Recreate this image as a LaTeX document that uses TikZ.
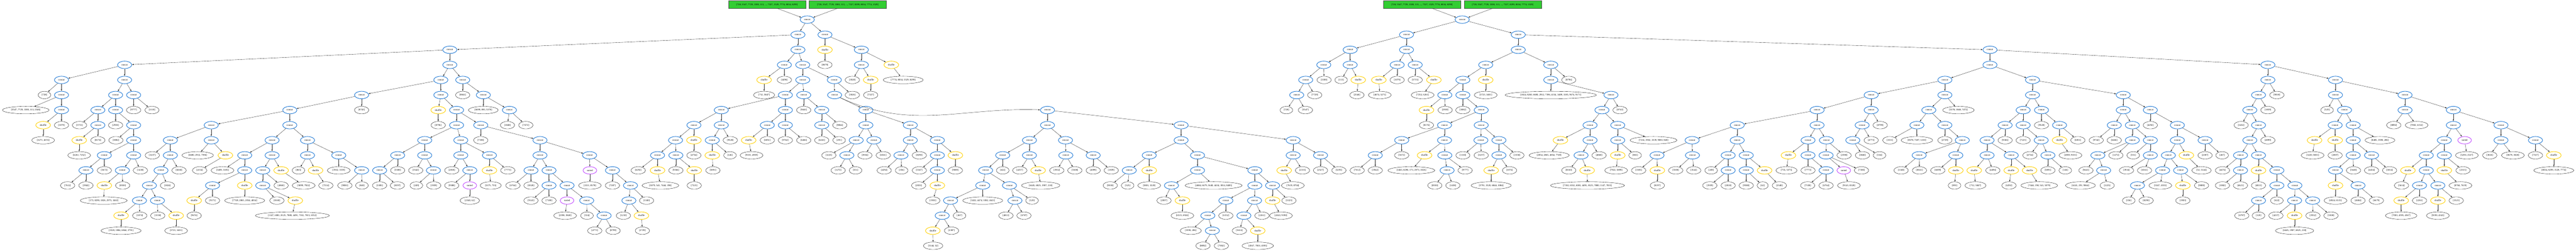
\documentclass[tikz,border=0pt]{standalone}
\usepackage{fontspec}
\setmainfont{Liberation Serif}
\usetikzlibrary{shapes.geometric,arrows.meta}
\definecolor{opblue}{RGB}{30,120,212}
\definecolor{opgold}{RGB}{255,208,0}
\definecolor{oppink}{RGB}{192,72,255}
\definecolor{srcgreen}{RGB}{50,205,50}

\def\concatlist{L1/R/2478/1, M1/R/2562/1, B/L1/1397/2, L2/L1/2478/2, M2/M1/2675/2, M3/M2/2675/3, L3a/L2/2436/3, L3b/L2/2493/3, L4a/L3b/2493/4, L4b/L3b/2591/4, L5c/L4b/2592/5, L5a/L4a/2439/5, L5b/L4a/2496/5, L6d/L5b/2552/6, L7d/L6d/2552/7, L6a/L5a/2240/6, L6b/L5a/2439/6, L7g/L6b/2383/7, L7h/L6b/2439/7, L7a/L6a/2155/7, L7b/L6a/2240/7, L8b/L7b/2212/8, L8a/L7a/2098/8, L9a/L8a/2042/9, L9b/L8a/2099/9, L6e/L5c/2689/6, L7e/L6e/2689/7, L7f/L6e/2827/7, L8e/L7e/2659/8, L8f/L7e/2714/8, L9e/L8e/2630/9, L8g/L7f/2827/8, L8h/L7f/2911/8, L9g/L8g/2798/9, L9h/L8h/2911/9, L10h/L9h/2911/10, N7a/N6/3253/7, N7b/N6/3668/7, N8a/N7a/3197/8, N8b/N7a/3309/8, N9a/N8a/3114/9, N9b/N8a/3197/9, N10a/N9a/3061/10, N11a/N10a/3052/11, N11b/N10a/3135/11, N12a/N11a/2952/12, N13a/N12a/2926/13, N12b/N11b/3152/12, N9x/N8b/3310/9, N9y/N8b/3395/9, N8c/N7b/3668/8, P8/N7b/4016/8, N9c/N8c/3569/9, N9d/N8c/3719/9, N10c/N9c/3507/10, N10d/N9d/3719/10, N10e/N9d/3897/10, N11d/N10d/3638/11, N11e/N10e/3897/11, N11f/N10e/3952/11, N12e/N11e/3807/12, N12f/N11e/3896/12, N13e/N12e/3751/13, N14e/N13e/3765/14, N13f/N12f/3863/13, P9a/P8/4016/9, P9b/P8/4101/9,
B3/B/1397/3, A/B/387/3, A4a/A/191/4, A4b/A/387/4, A5a/A4a/191/5, A6a/A5a/191/6, A5b/A4b/359/5, A5c/A4b/415/5, A6b/A5b/304/6, A6c/A5b/359/6, A7b/A6b/304/7, A7c/A6c/415/7, A8c/A7c/415/8, A9a/A8c/324/9, A9b/A8c/415/9, A10a/A9a/267/10, A10b/A9b/380/10, B4a/B3/1369/4, B4b/B3/1437/4, C5/B4a/1123/5, B5a/B4a/1369/5, B5b/B4b/1501/5, B6b/B5b/1582/6, B6a/B5a/1418/6, B7a/B6a/1418/7, B7b/B6a/1493/7, B8c/B7b/1677/8, B8a/B7a/1319/8, B8b/B7a/1431/8, B9a/B8a/1235/9, B9b/B8a/1319/9, B10x/B9a/1179/10, B10y/B9b/1346/10, B9c/B8b/1431/9, B9d/B8b/1520/9, B10c/B9c/1459/10, B9e/B8c/1677/9, B9f/B8c/1831/9, B10a/B9e/1649/10, B10b/B9e/1705/10, B11a/B10b/1705/11, B11b/B10b/1761/11, B12/B11b/1822/12, B13/B12/1876/13, B10f/B9f/1902/10, B11f/B10f/1958/11, B12f/B11f/1953/12, C6/C5/900/6, C7a/C6/656/7, C7b/C6/900/7, C8a/C7a/529/8, C8b/C7a/656/8, C9a/C8a/529/9, C10a/C9a/500/10, C11a/C10a/464/11, C12a/C11a/433/12, C12b/C11a/489/12, C8c/C7b/845/8, C8d/C7b/955/8, C9c/C8c/760/9, C9d/C8c/845/9, C10c/C9c/760/10, C11c/C10c/660/11, C10d/C9d/816/10, C11d/C10d/816/11, C9e/C8d/955/9, C9f/C8d/1052/9, C10f/C9f/1123/10,
S1/R2/4368/1, T1/R2/4715/1, S2a/S1/4193/2, S2b/S1/4368/2, S3a/S2a/4111/3, S3b/S2a/4193/3, S4a/S3a/4055/4, S5a/S4a/4027/5, S3c/S2b/4339/3, S3d/S2b/4395/3, T2/T1/4715/2, U2/T1/6180/2, T3a/T2/4614/3, T3b/T2/4816/3, T4a/T3a/4543/4, T5a/T4a/4487/5, T5b/T4a/4543/5, T6b/T5b/4600/6, T7a/T6b/4486/7, T7b/T6b/4600/7, T8a/T7a/4353/8, T8b/T7a/4486/8, T9a/T8a/4271/9, T9b/T8b/4487/9, T10b/T9b/4494/10, T8c/T7b/4599/8, T8d/T7b/4655/8, T9d/T8d/4655/9, T4b/T3b/4816/4, T5d/T4b/5003/5, T6d/T5d/4975/6, T7d/T6d/4938/7, T7e/T6d/5024/7, T8e/T7d/4938/8, T9e/T8e/4910/9, T8f/T7e/5024/8,
U3/U2/6180/3, V3/U2/7043/3, U4a/U3/6040/4, U4b/U3/6312/4, U5a/U4a/5811/5, U5b/U4a/6040/5, U6a/U5b/5990/6, U7a/U6a/5953/7, U7b/U6a/6040/7, U8b/U7b/6094/8, U9a/U8b/5960/9, U9b/U8b/6074/9, W6a/U5a/5643/6, W6b/U5a/5811/6, W7c/W6b/5783/7, W8c/W7c/5754/8, W7a/W6a/5395/7, W7b/W6a/5643/7, W8a/W7b/5615/8, W8b/W7b/5672/8, W9a/W8a/5615/9, W10a/W9a/5671/10, W9b/W8b/5671/9, W8d/W7a/5255/8, W8e/W7a/5395/8, W9d/W8d/5146/9, W9e/W8d/5256/9, W9f/W8e/5367/9, W9g/W8e/5423/9, W10f/W9f/5367/10, W10g/W9g/5423/10, U5c/U4b/6312/5, U5d/U4b/6594/5, U6c/U5c/6283/6, U6d/U5c/6340/6, U7c/U6c/6227/7, U7d/U6c/6283/7, U8c/U7c/6171/8, U9c/U8c/6171/9, U9d/U8c/6246/9, U8d/U7d/6339/8, U9x/U8d/6360/9, U7e/U6d/6396/7, U6e/U5d/6594/6, U6f/U5d/6678/6, U7f/U6e/6566/7, U7g/U6e/6622/7, U8g/U7g/6622/8, U8h/U7g/6678/8, U9g/U8g/6515/9, U10g/U9g/6533/10, U9h/U8h/6678/9, U7h/U6f/6762/7, U8i/U7h/6762/8, U8j/U7h/6848/8, U9i/U8i/6734/9, U10i/U9i/6716/10, U10j/U9i/6772/10, U11i/U10i/6638/11,
V4a/V3/7043/4, V4b/V3/7253/4, V5a/V4a/7014/5, V6a/V5a/6987/6, V7a/V6a/7014/7, V8a/V7a/6987/8, V9a/V8a/6958/9, V9b/V8a/7014/9, V10a/V9a/6958/10, V10b/V9b/7071/10, V11a/V10b/7071/11, V11b/V10b/7127/11, V12a/V11a/7014/12, V12b/V11b/7126/12, V12c/V11b/7182/12, V5b/V4b/7253/5, V5c/V4b/7469/5, V6b/V5b/7281/6, V7b/V6b/7252/7, V7c/V6b/7308/7, V8c/V7c/7308/8, V9c/V8c/7308/9, V9d/V8c/7365/9, V10c/V9c/7253/10, V11c/V10c/7323/11, V6c/V5c/7469/6, V6d/V5c/7619/6, V7d/V6d/7619/7, V7e/V6d/7767/7, V8d/V7d/7591/8, V9e/V8d/7535/9, V9f/V8d/7591/9, V10e/V9e/7535/10, V11e/V10e/7514/11, V11f/V10e/7571/11, V8e/V7e/7767/8, V8f/V7e/7874/8}

\def\shufflelist{sA/M1/2562/2, sB/M2/2768/3, sC/M3/2704/4, sD/L3a/2373/4, sE/L7g/2325/8, sF/L8b/2212/9, sG/L7a/2155/8, sH/L9b/2156/10, sI/L9a/2042/10, sJ/L8h/2967/9, sK/L10h/2911/11, sL/N13a/2897/14, sM/N9b/3224/10, sN/N9c/3569/10, sO/N11d/3672/12, sP/N13f/3906/14, sQ/N11f/3952/12, sR/P9a/3988/10, sS/A6a/134/7, sT/A7b/246/8, sU/A10b/324/11, sV/B5a/1361/6, sW/B9d/1520/10, sX/B12f/1992/13, sY/C12a/376/13, sZ/C12b/547/13, sAA/C8b/700/9, sAB/C10c/760/11, sAC/C11c/603/12, sAD/C9d/873/10, sAE/C11d/917/12, sAF/C9e/980/10,
tA/S3b/4218/4, tB/S3c/4282/4, tC/S3d/4453/4, tD/T3a/4614/4, tE/T5a/4430/6, tF/T8b/4424/9, tG/T9d/4631/10, tH/T7d/4846/8, tI/T9e/4929/10, tJ/T8f/5024/9, tK/U9b/6074/10, tL/W8a/5554/9, tM/W9d/5147/10, tN/W9g/5480/10, tO/U9c/6131/10, tP/U9d/6246/10, tQ/U9d/6303/10, tR/U7e/6396/8, tS/U8i/6790/9, tT/U10j/6779/11, tU/V9b/7014/10, tV/V12b/7126/13, tW/V7b/7188/8, tX/V7b/7252/8, tY/V10c/7253/11, tZ/V9e/7478/10, tAA/V11e/7457/12, tAB/V11f/7571/12, tAC/V9f/7591/10, tAD/V8f/7931/9}

\def\sortedlist{oA/B10c/1459/11, oB/B11b/1761/12, oC/B9f/1832/10, oD/W9b/5726/10, oE/V7d/7654/8}

\def\leaflist{l1/sA/2562/3/{[8679]}, l2/sB/2805/4/{[7774, 8034, 1529, 8299]}, l3/M3/2647/4/{[3028]}, l4/sC/2704/5/{[7327]}, l5/L3a/2436/4/{[4496]}, l6/sD/2373/5/{[712, 5847]}, l7/L4b/2647/5/{[3026]}, l8/L5b/2496/6/{[9441]}, l9/L6d/2608/7/{[9864]}, l10/L7d/2552/8/{[6241]}, l11/L7d/2606/8/{[291]}, l12/L7g/2383/8/{[6051]}, l13/sE/2334/9/{[9101, 4959]}, l14/L7h/2439/8/{[9742]}, l15/L7h/2496/8/{[6466]}, l16/L7b/2268/8/{[9528]}, l17/L8b/2267/9/{[146]}, l18/sF/2214/10/{[5891]}, l19/sG/2155/9/{[4754]}, l20/L9b/2099/10/{[9366]}, l21/sH/2156/11/{[7221]}, l22/sI/2051/11/{[5079, 541, 7444, 198]}, l23/L9a/1982/10/{[6292]}, l24/L8e/2574/9/{[1225]}, l25/L9e/2603/10/{[1272]}, l26/L9e/2657/10/{[551]}, l27/L8f/2686/9/{[3934]}, l28/L8f/2743/9/{[6561]}, l29/L9g/2746/10/{[4292]}, l30/L9g/2800/10/{[356]}, l31/L8g/2855/9/{[8290]}, l32/sJ/2967/10/{[9089]}, l33/L9h/2855/10/{[5347]}, l34/L10h/2853/11/{[2033]}, l35/sK/2897/12/{[1903]}, l36/N12a/2980/13/{[467]}, l37/N13a/2955/14/{[2387]}, l38/sL/2898/15/{[5144, 52]}, l39/N11a/3052/12/{[3432, 4474, 1082, 4621]}, l40/N12b/3124/13/{[4813]}, l41/N12b/3180/13/{[6787]}, l42/N11b/3205/12/{[120]}, l43/N9a/3114/10/{[622]}, l44/N9b/3167/10/{[4257]}, l45/sM/3232/11/{[6445, 6825, 1907, 218]}, l46/N9x/3282/10/{[3932]}, l47/N9x/3338/10/{[5508]}, l48/N9y/3395/10/{[4099]}, l49/N9y/3451/10/{[1839]}, l50/N10c/3448/11/{[9018]}, l51/N10c/3502/11/{[525]}, l52/sN/3569/11/{[5801, 3220]}, l53/N10d/3769/11/{[4684, 6679, 5640, 4434, 3814, 8485]}, l54/N11d/3615/12/{[2007]}, l55/sO/3672/13/{[6515, 6924]}, l56/N12e/3807/13/{[6152]}, l57/N13e/3698/14/{[3590, 286]}, l58/N14e/3736/15/{[8892]}, l59/N14e/3793/15/{[7002]}, l60/N12f/3919/13/{[2261]}, l61/N13f/3849/14/{[5614]}, l62/sP/3906/15/{[4567, 7003, 4595]}, l63/N11f/4003/12/{[3323]}, l64/sQ/3978/13/{[4343, 9190]}, l65/P9a/4045/10/{[2315]}, l66/sR/4015/11/{[7619, 8704]}, l67/P9b/4101/10/{[2527]}, l68/P9b/4158/10/{[5293]},
l69/A4a/138/5/{[728]}, l70/A5a/80/6/{[5547, 7729, 3300, 113, 2546]}, l71/A6a/191/7/{[1079]}, l72/sS/134/8/{[3271, 4674]}, l73/A5c/415/6/{[9777]}, l74/A5c/472/6/{[1110]}, l75/A6b/247/7/{[5715]}, l76/A7b/304/8/{[8174]}, l77/sT/246/9/{[6261, 7252]}, l78/A6c/359/7/{[2930]}, l79/A7c/360/8/{[3082]}, l80/A9a/324/10/{[5672]}, l81/A10a/210/11/{[7612]}, l82/A10a/267/11/{[3942]}, l83/A9b/436/10/{[1438]}, l84/A10b/381/11/{[8550]}, l85/sU/322/12/{[173, 8290, 1826, 2973, 3463]},
l86/B4b/1437/5/{[8041]}, l87/B5b/1501/6/{[6699, 893, 5378]}, l88/B6b/1576/7/{[1848]}, l89/B6b/1633/7/{[7472]}, l90/sV/1361/7/{[8796]}, l91/B7b/1493/8/{[7338]}, l92/B10x/1179/11/{[3385]}, l93/B10x/1234/11/{[8197]}, l94/B9a/1235/10/{[5500]}, l95/B9b/1291/10/{[3542]}, l96/B10y/1293/11/{[249]}, l97/B10y/1347/11/{[1939]}, l98/B9c/1403/10/{[2818]}, l99/B10c/1403/11/{[9588]}, l100/oA/1459/12/{[2340, 62]}, l101/B9d/1577/10/{[7773]}, l102/sW/1524/11/{[5375, 755]}, l103/B10a/1593/11/{[6764]}, l104/B10a/1649/11/{[8328]}, l105/B11a/1649/12/{[9143]}, l106/B11a/1705/12/{[7180]}, l107/oB/1755/13/{[2598, 3840]}, l108/B12/1823/13/{[534]}, l109/B13/1847/14/{[4773]}, l110/B13/1904/14/{[8799]}, l111/oC/1832/11/{[3311, 8578]}, l112/B10f/1902/11/{[7287]}, l113/B11f/2008/12/{[1340]}, l114/B12f/1936/13/{[1210]}, l115/sX/1995/14/{[2729]},
l116/C5/1123/6/{[8743]}, l117/C8a/473/9/{[3237]}, l118/C9a/556/10/{[8260]}, l119/C10a/520/11/{[1824]}, l120/C12a/434/13/{[1074]}, l121/sY/376/14/{[3320, 1084, 6844, 3791]}, l122/C12b/490/13/{[3158]}, l123/sZ/547/14/{[3723, 3401]}, l124/C8b/614/9/{[6680, 2912, 7396]}, l125/sAA/620/10/{[4154]}, l126/C9c/691/10/{[3409, 3185]}, l127/sAB/760/12/{[7749, 2865, 2054, 4854]}, l128/C11c/660/12/{[9171]}, l129/sAC/603/13/{[9674]}, l130/sAD/943/11/{[5899, 7922]}, l131/C10d/873/11/{[4860]}, l132/C11d/860/12/{[8160]}, l133/sAE/908/13/{[1147, 6081, 8125, 7880, 4491, 7102, 7815, 6552]}, l134/C9e/927/10/{[865]}, l135/sAF/1012/11/{[7214]}, l136/C9f/1052/10/{[3932, 3339]}, l137/C10f/1071/11/{[9083]}, l138/C10f/1124/11/{[840]},
r1/S5a/3995/6/{[728]}, r2/S5a/4054/6/{[5547]}, r3/S4a/4083/5/{[7729]}, r4/S3a/4112/4/{[3300]}, r5/S3b/4165/4/{[113]}, r6/tA/4214/5/{[2546]}, r7/tB/4285/5/{[4674, 3271]}, r8/S3c/4339/4/{[1079]}, r9/S3d/4395/4/{[5715]}, r10/tC/4418/5/{[7252, 6261]}, r11/tD/4614/5/{[3723, 3401]}, r12/tE/4430/7/{[8174]}, r13/T5a/4488/6/{[2930]}, r14/T5b/4543/6/{[3082]}, r15/T8a/4353/9/{[5672]}, r16/T9a/4215/10/{[7612]}, r17/T9a/4271/10/{[3942]}, r18/tF/4383/10/{[3463, 8290, 173, 2973, 1826]}, r19/T10b/4456/11/{[8550]}, r20/T10b/4512/11/{[1438]}, r21/T9b/4550/10/{[9777]}, r22/T8c/4543/9/{[1110]}, r23/T8c/4600/9/{[3237]}, r24/T8d/4711/9/{[3158]}, r25/tG/4631/11/{[3791, 3320, 6844, 1084]}, r26/T9d/4688/10/{[1074]}, r27/T3b/4872/4/{[8796]}, r28/T4b/4816/5/{[1824, 8260, 6680, 2912, 7396, 4154, 3409, 3185, 9674, 9171]}, r29/T5d/5031/6/{[8743]}, r30/tH/4811/9/{[2054, 2865, 4854, 7749]}, r31/T8e/4966/9/{[4860]}, r32/T9e/4872/10/{[8160]}, r33/tI/4930/11/{[7102, 6552, 6081, 4491, 8125, 7880, 1147, 7815]}, r34/T7e/5135/8/{[7214, 3932, 3339, 9083, 840]}, r35/T8f/5078/9/{[865]}, r36/tJ/5019/10/{[7922, 5899]},
r37/W6b/5839/7/{[8799]}, r38/W7c/5811/8/{[4773]}, r39/W8c/5784/9/{[3840]}, r40/W8c/5837/9/{[534]}, r41/tL/5548/10/{[755, 5375]}, r42/W9a/5615/10/{[7773]}, r43/W10a/5614/11/{[7338]}, r44/W10a/5671/11/{[6764]}, r45/W8b/5727/9/{[2598]}, r46/W9b/5781/10/{[7180]}, r47/oD/5742/11/{[9143, 8328]}, r48/W9d/5089/10/{[3385]}, r49/tM/5147/11/{[8197]}, r50/W9e/5204/10/{[5500]}, r51/W9e/5260/10/{[3542]}, r52/W9f/5314/10/{[249]}, r53/W10f/5310/11/{[1939]}, r54/W10f/5367/11/{[2818]}, r55/W10g/5423/11/{[9588]}, r56/W10g/5474/11/{[62]}, r57/tN/5526/11/{[2340]},
r58/U7a/5869/8/{[3311]}, r59/U7a/5953/8/{[8578, 7287, 1210]}, r60/U5b/6082/6/{[5378, 1848, 7472]}, r61/U7b/6040/8/{[2729]}, r62/U9a/5904/10/{[1340]}, r63/U9a/5961/10/{[8041]}, r64/U9b/6018/10/{[6699]}, r65/tK/6070/11/{[893]}, r66/U7c/6227/8/{[9366]}, r67/U9c/6189/10/{[4496]}, r68/tO/6135/11/{[712, 5847]}, r69/tP/6239/11/{[6292]}, r70/tQ/6333/11/{[7444, 198, 541, 5079]}, r71/U7d/6283/8/{[7221]}, r72/U8d/6304/9/{[4754]}, r73/U9x/6360/10/{[5891]}, r74/U9x/6414/10/{[146]}, r75/U6d/6340/7/{[9528]}, r76/U7e/6453/8/{[6051]}, r77/tR/6430/9/{[4959, 9101]}, r78/U7f/6510/8/{[9742]}, r79/U7f/6566/8/{[6466]}, r80/U8g/6571/9/{[1272]}, r81/U9g/6478/10/{[9441]}, r82/U10g/6461/11/{[6241, 291, 9864]}, r83/U10g/6544/11/{[1225]}, r84/U8h/6625/9/{[551]}, r85/U9h/6604/10/{[3934]}, r86/U9h/6660/10/{[6561]}, r87/U6f/6678/7/{[4292]}, r88/tS/6837/10/{[52, 5144]}, r89/U10i/6709/11/{[5347, 2033]}, r90/U11i/6611/12/{[356]}, r91/U11i/6665/12/{[8290]}, r92/tT/6779/12/{[1903]}, r93/U10j/6837/11/{[9089]}, r94/U8j/6848/9/{[2387]}, r95/U8j/6901/9/{[467]},
r96/V4a/7071/5/{[9018]}, r97/V5a/7043/6/{[1839]}, r98/V6a/6960/7/{[3432]}, r99/V7a/7043/8/{[4099]}, r100/V9a/6902/10/{[4474]}, r101/V10a/6902/11/{[1082]}, r102/V10a/6958/11/{[4621]}, r103/tU/7014/11/{[4813]}, r104/V11a/7071/12/{[622]}, r105/V12a/6962/13/{[6787]}, r106/V12a/7014/13/{[120]}, r107/V12b/7068/13/{[4257]}, r108/tV/7126/14/{[6445, 1907, 6825, 218]}, r109/V12c/7183/13/{[3932]}, r110/V12c/7239/13/{[5508]}, r111/V5b/7227/6/{[525]}, r112/tW/7182/9/{[3220, 5801]}, r113/tX/7252/9/{[2007]}, r114/V7c/7391/8/{[8485, 3590, 286]}, r115/V9c/7309/10/{[5640]}, r116/tY/7253/12/{[6924, 6515]}, r117/V11c/7323/12/{[4684]}, r118/V11c/7380/12/{[6679]}, r119/V9d/7365/10/{[4434]}, r120/V9d/7421/10/{[3814]}, r121/V6c/7434/7/{[8892]}, r122/V6c/7505/7/{[7002, 6152]}, r123/oE/7661/9/{[5293, 2527]}, r124/tZ/7458/11/{[5614]}, r125/V11e/7514/12/{[2261]}, r126/tAA/7457/13/{[7003, 4595, 4567]}, r127/V11f/7628/12/{[3323]}, r128/tAB/7571/13/{[9190, 4343]}, r129/V9f/7649/10/{[2315]}, r130/tAC/7641/11/{[8704, 7619]}, r131/V8e/7732/9/{[3026]}, r132/V8e/7804/9/{[8679, 3028]}, r133/V8f/7874/9/{[7327]}, r134/tAD/7931/10/{[8034, 8299, 1529, 7774]}}

\begin{document}
\begin{tikzpicture}[x=1pt,y=-46.8pt,
    every node/.style={font=\fontsize{7.5}{9}\selectfont},
    opnode/.style={ellipse,line width=1.5pt,inner xsep=5.8pt,inner ysep=2pt,minimum height=23pt},
    concat/.style={opnode,draw=opblue},
    shuffle/.style={opnode,draw=opgold},
    sorted/.style={opnode,draw=oppink},
    leaf/.style={ellipse,draw=black,line width=0.6pt,inner xsep=5.8pt,inner ysep=2pt,minimum height=23pt},
    src/.style={rectangle,draw=black!70,fill=srcgreen,line width=0.6pt,minimum width=240pt,minimum height=23.5pt},
    link/.style={draw=black!85,line width=0.6pt,-{Latex[length=5.5pt,width=4pt]}}]
  \useasboundingbox (0,-1.303) rectangle (8000,15.32);
  \node[src] (g1) at (2382,-1) {[728, 5547, 7729, 3300, 113, ..., 7327, 1529, 7774, 8034, 8299]};
  \node[src] (g2) at (2633,-1) {[728, 5547, 7729, 3300, 113, ..., 7327, 8299, 8034, 7774, 1529]};
  \node[src] (g3) at (4416,-1) {[728, 5547, 7729, 3300, 113, ..., 7327, 1529, 7774, 8034, 8299]};
  \node[src] (g4) at (4667,-1) {[728, 5547, 7729, 3300, 113, ..., 7327, 8299, 8034, 7774, 1529]};
  \node[concat] (R) at (2507,0) {concat};
  \node[concat] (R2) at (4541,0) {concat};
  \node[concat] (N6) at (3253,6) {concat};
  \foreach \nm/\pa/\xx/\rw in \concatlist {\node[concat] (\nm) at (\xx,\rw) {concat};}
  \foreach \nm/\pa/\xx/\rw in \shufflelist {\node[shuffle] (\nm) at (\xx,\rw) {shuffle};}
  \foreach \nm/\pa/\xx/\rw in \sortedlist {\node[sorted] (\nm) at (\xx,\rw) {sorted};}
  \foreach \nm/\pa/\xx/\rw/\lbl in \leaflist {\node[leaf] (\nm) at (\xx,\rw) {\lbl};}
  \draw[link] (g1) -- (R);
  \draw[link] (g2) -- (R);
  \draw[link] (g3) -- (R2);
  \draw[link] (g4) -- (R2);
  \draw[link] (L5c) to[out=-25,in=178] (N6);
  \foreach \nm/\pa/\xx/\rw in \concatlist {\draw[link] (\pa) -- (\nm);}
  \foreach \nm/\pa/\xx/\rw in \shufflelist {\draw[link] (\pa) -- (\nm);}
  \foreach \nm/\pa/\xx/\rw in \sortedlist {\draw[link] (\pa) -- (\nm);}
  \foreach \nm/\pa/\xx/\rw/\lbl in \leaflist {\draw[link] (\pa) -- (\nm);}
\end{tikzpicture}
\end{document}
